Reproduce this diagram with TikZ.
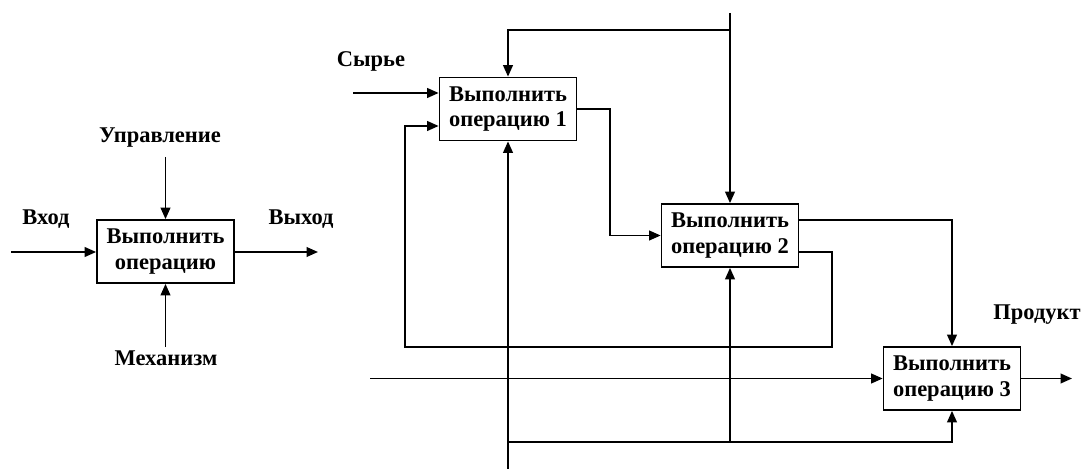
\documentclass[tikz,border=0pt]{standalone}
\usepackage{fontspec}
\setmainfont{Liberation Serif}
\usetikzlibrary{arrows.meta}

\begin{document}
\begin{tikzpicture}[x=0.02cm, y=-0.02cm, line width=1pt, >={Triangle[length=6.5pt,width=5.5pt]},
  opbox/.style={draw, minimum width=2.74cm, minimum height=1.26cm, inner sep=0pt, align=center,
    font=\fontsize{12.8}{14.5}\selectfont\bfseries},
  lbl/.style={font=\fontsize{12.8}{14.5}\selectfont\bfseries}]
  \useasboundingbox (0,0) rectangle (1084,469);

  % one activity
  \node[opbox] (op) at (165.5,251.5) {Выполнить\\операцию};
  \coordinate (in) at (11,252);
  \coordinate (out) at (318,252);
  \coordinate (ctl) at (165.5,157);
  \coordinate (mech) at (165.5,347);
  \draw[->] (in) -- (op.west |- in);
  \draw[->] (op.east |- out) -- (out);
  \draw[->] (ctl) -- (op.north);
  \draw[->] (mech) -- (op.south);
  \node[lbl] (vhod) at (46,219) {Вход};
  \node[lbl] (vyhod) at (301,219) {Выход};
  \node[lbl] (upr) at (160,138) {Управление};
  \node[lbl] (meh) at (166,358) {Механизм};

  % three activities
  \node[opbox] (op1) at (508,109) {Выполнить\\операцию 1};
  \node[opbox] (op2) at (730,235.5) {Выполнить\\операцию 2};
  \node[opbox] (op3) at (952,378.5) {Выполнить\\операцию 3};

  \coordinate (ctltop) at (730,13);
  \coordinate (ctlsplit) at (730,30);
  \draw[->] (ctltop) -- (op2.north);
  \draw[->] (ctlsplit) -| (op1.north);

  \coordinate (raw) at (353,93);
  \draw[->] (raw) -- (op1.west |- raw);
  \node[lbl] (syrie) at (371,61) {Сырье};

  \coordinate (turn1) at (610,109);
  \draw[->] (op1.east) -- (turn1) |- (op2.west);

  \coordinate (out2a) at (799,220);
  \draw[->] (op2.east |- out2a) -| (op3.north);

  \coordinate (out2b) at (832,252);
  \coordinate (fbbot) at (405,347);
  \coordinate (fbin) at (405,126);
  \draw[->] (op2.east |- out2b) -- (out2b) |- (fbbot) -- (fbin) -- (op1.west |- fbin);

  \coordinate (in3) at (370,378.5);
  \coordinate (prod) at (1072,378.5);
  \draw[->] (in3) -- (op3.west);
  \draw[->] (op3.east) -- (prod);
  \node[lbl] (produkt) at (1037,315) {Продукт};

  \coordinate (mbot) at (508,469);
  \coordinate (msplit) at (508,442);
  \coordinate (mbranch) at (730,442);
  \draw[->] (mbot) -- (op1.south);
  \draw[->] (msplit) -| (op3.south);
  \draw[->] (mbranch) -- (op2.south);
\end{tikzpicture}
\end{document}
